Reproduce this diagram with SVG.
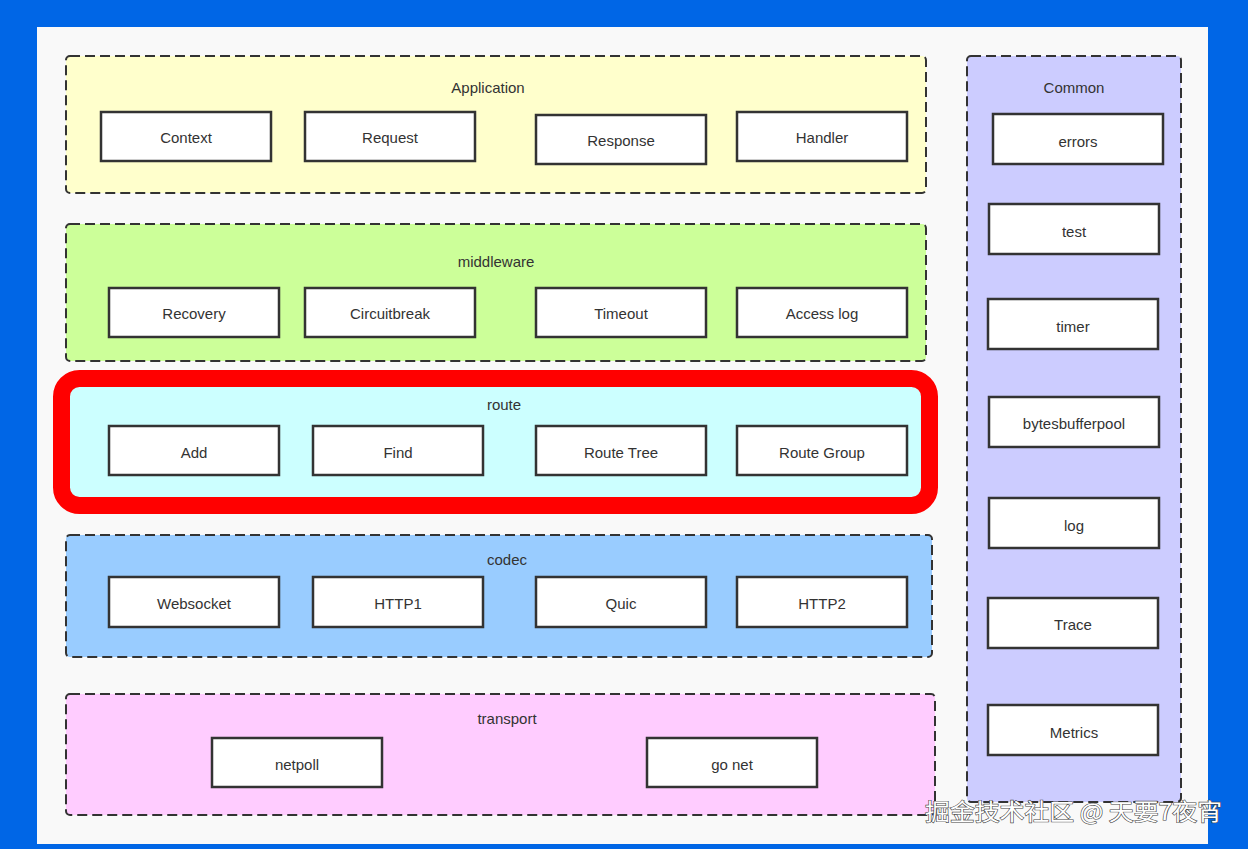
<svg xmlns="http://www.w3.org/2000/svg" width="1248" height="849" viewBox="0 0 1248 849">
<style>
.grp{stroke:#333;stroke-width:2;stroke-dasharray:10 5;}
.box{fill:#fff;stroke:#333;stroke-width:2.5;}
.t{font-family:"Liberation Sans",Arial,sans-serif;font-size:15px;fill:#333;text-anchor:middle;}
.wm{font-family:"Noto Sans CJK SC",sans-serif;font-size:23px;fill:#fff;stroke:#444;stroke-width:1.2;paint-order:stroke;}
</style>
<rect x="0" y="0" width="1248" height="849" fill="#0066e6"/>
<rect x="37" y="27" width="1171" height="817" fill="#f9f9f9"/>

<g id="application">
<rect class="grp" x="66" y="56" width="860" height="137" rx="4" fill="#ffffcc"/>
<text class="t" x="488" y="93">Application</text>
</g>
<g id="context"><rect class="box" x="101" y="112" width="170" height="49"/><text class="t" x="186" y="143">Context</text></g>
<g id="request"><rect class="box" x="305" y="112" width="170" height="49"/><text class="t" x="390" y="143">Request</text></g>
<g id="response"><rect class="box" x="536" y="115" width="170" height="49"/><text class="t" x="621" y="146">Response</text></g>
<g id="handler"><rect class="box" x="737" y="112" width="170" height="49"/><text class="t" x="822" y="143">Handler</text></g>

<g id="middleware">
<rect class="grp" x="66" y="224" width="860" height="137" rx="4" fill="#ccff99"/>
<text class="t" x="496" y="267">middleware</text>
</g>
<g id="recovery"><rect class="box" x="109" y="288" width="170" height="49"/><text class="t" x="194" y="319">Recovery</text></g>
<g id="circuitbreak"><rect class="box" x="305" y="288" width="170" height="49"/><text class="t" x="390" y="319">Circuitbreak</text></g>
<g id="timeout"><rect class="box" x="536" y="288" width="170" height="49"/><text class="t" x="621" y="319">Timeout</text></g>
<g id="accesslog"><rect class="box" x="737" y="288" width="170" height="49"/><text class="t" x="822" y="319">Access log</text></g>

<g id="route">
<rect x="61.5" y="378.5" width="868" height="127" rx="18" fill="#ccffff" stroke="#ff0000" stroke-width="17"/>
<text class="t" x="504" y="410">route</text>
</g>
<g id="add"><rect class="box" x="109" y="426" width="170" height="49"/><text class="t" x="194" y="458">Add</text></g>
<g id="find"><rect class="box" x="313" y="426" width="170" height="49"/><text class="t" x="398" y="458">Find</text></g>
<g id="routetree"><rect class="box" x="536" y="426" width="170" height="49"/><text class="t" x="621" y="458">Route Tree</text></g>
<g id="routegroup"><rect class="box" x="737" y="426" width="170" height="49"/><text class="t" x="822" y="458">Route Group</text></g>

<g id="codec">
<rect class="grp" x="66" y="535" width="866" height="122" rx="4" fill="#99ccff"/>
<text class="t" x="507" y="565">codec</text>
</g>
<g id="websocket"><rect class="box" x="109" y="577" width="170" height="50"/><text class="t" x="194" y="609">Websocket</text></g>
<g id="http1"><rect class="box" x="313" y="577" width="170" height="50"/><text class="t" x="398" y="609">HTTP1</text></g>
<g id="quic"><rect class="box" x="536" y="577" width="170" height="50"/><text class="t" x="621" y="609">Quic</text></g>
<g id="http2"><rect class="box" x="737" y="577" width="170" height="50"/><text class="t" x="822" y="609">HTTP2</text></g>

<g id="transport">
<rect class="grp" x="66" y="694" width="869" height="121" rx="4" fill="#ffccff"/>
<text class="t" x="507" y="724">transport</text>
</g>
<g id="netpoll"><rect class="box" x="212" y="738" width="170" height="49"/><text class="t" x="297" y="770">netpoll</text></g>
<g id="gonet"><rect class="box" x="647" y="738" width="170" height="49"/><text class="t" x="732" y="770">go net</text></g>

<g id="common">
<rect class="grp" x="967" y="56" width="214" height="746" rx="4" fill="#ccccff"/>
<text class="t" x="1074" y="93">Common</text>
</g>
<g id="errors"><rect class="box" x="993" y="114" width="170" height="50"/><text class="t" x="1078" y="147">errors</text></g>
<g id="test"><rect class="box" x="989" y="204" width="170" height="50"/><text class="t" x="1074" y="237">test</text></g>
<g id="timer"><rect class="box" x="988" y="299" width="170" height="50"/><text class="t" x="1073" y="332">timer</text></g>
<g id="bytesbufferpool"><rect class="box" x="989" y="397" width="170" height="50"/><text class="t" x="1074" y="429">bytesbufferpool</text></g>
<g id="log"><rect class="box" x="989" y="498" width="170" height="50"/><text class="t" x="1074" y="531">log</text></g>
<g id="trace"><rect class="box" x="988" y="598" width="170" height="50"/><text class="t" x="1073" y="630">Trace</text></g>
<g id="metrics"><rect class="box" x="988" y="705" width="170" height="50"/><text class="t" x="1074" y="738">Metrics</text></g>

<g id="connectors"></g>

<text class="wm" x="925" y="820" textLength="297" lengthAdjust="spacingAndGlyphs">掘金技术社区 @ 天要7夜宵</text>
</svg>
